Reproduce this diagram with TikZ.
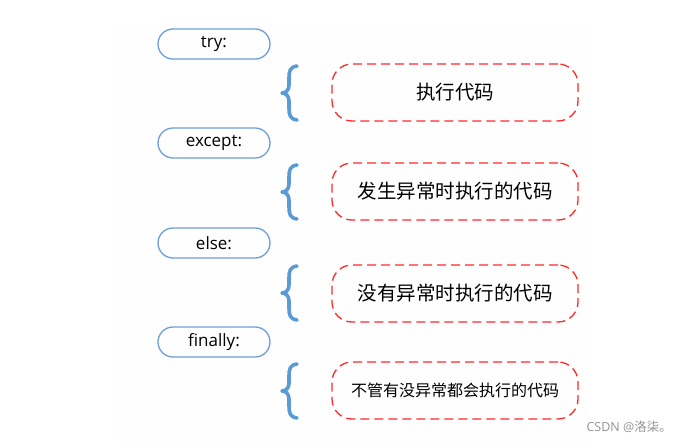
\documentclass[tikz,border=0pt]{standalone}
\usepackage{fontspec}
\setmainfont{Open Sans}
\newfontfamily\cjk{Noto Sans CJK SC}
\usetikzlibrary{calc}
\definecolor{pillblue}{HTML}{6F9FD8}
\definecolor{braceblue}{HTML}{5B9BD5}
\definecolor{dashred}{HTML}{FF2A2A}
\definecolor{panel}{HTML}{FEFEFE}
\tikzset{
  pill/.style={draw=pillblue, line width=1.3pt, rounded corners=15pt, minimum width=112pt, minimum height=30pt, inner sep=0pt, font=\fontsize{17}{20}\selectfont, text=black},
  codebox/.style={draw=dashred, line width=1.3pt, dash pattern=on 9pt off 5pt, rounded corners=20pt, minimum width=246pt, minimum height=57pt, inner sep=0pt, text=black},
  bracestroke/.style={draw=braceblue, line width=3.6pt, line cap=round, line join=round},
}
\newcommand{\mybrace}[3]{% x, ytop, ybot
  \draw[bracestroke] (#1+16,#2) .. controls (#1+9,#2+1) and (#1+8,#2+5) .. (#1+8,#2+12)
    -- (#1+8,{(#2+#3)/2-8}) .. controls (#1+8,{(#2+#3)/2-3}) and (#1+5,{(#2+#3)/2}) .. (#1+1,{(#2+#3)/2})
    .. controls (#1+5,{(#2+#3)/2}) and (#1+8,{(#2+#3)/2+3}) .. (#1+8,{(#2+#3)/2+8})
    -- (#1+8,#3-12) .. controls (#1+8,#3-5) and (#1+9,#3-1) .. (#1+16,#3);
}
\begin{document}
\begin{tikzpicture}[x=1pt,y=-1pt]
\useasboundingbox (0,0) rectangle (686,444);
\fill[panel] (118,25) rectangle (590,444);
\node[pill] (try) at (214,44) {try:};
\node[pill] (except) at (214,143) {except:};
\node[pill] (else) at (214,243) {else:};
\node[pill] (finally) at (214,342) {finally:};
\mybrace{281}{66}{120}
\mybrace{281}{165}{219}
\mybrace{281}{266}{320}
\mybrace{281}{364}{418}
\node[codebox, font=\cjk\fontsize{19.5}{22}\selectfont] (b1) at (455,92.5) {执行代码};
\node[codebox, font=\cjk\fontsize{19.5}{22}\selectfont] (b2) at (455,191.5) {发生异常时执行的代码};
\node[codebox, font=\cjk\fontsize{19.5}{22}\selectfont] (b3) at (455,293.5) {没有异常时执行的代码};
\node[codebox, font=\cjk\fontsize{16}{18}\selectfont] (b4) at (455,390.5) {不管有没异常都会执行的代码};
\node[anchor=east, text=gray!85, font=\fontsize{12.5}{15}\selectfont, inner sep=0pt] (wm) at (672,427) {CSDN @{\cjk 洛柒。}};
\end{tikzpicture}
\end{document}
